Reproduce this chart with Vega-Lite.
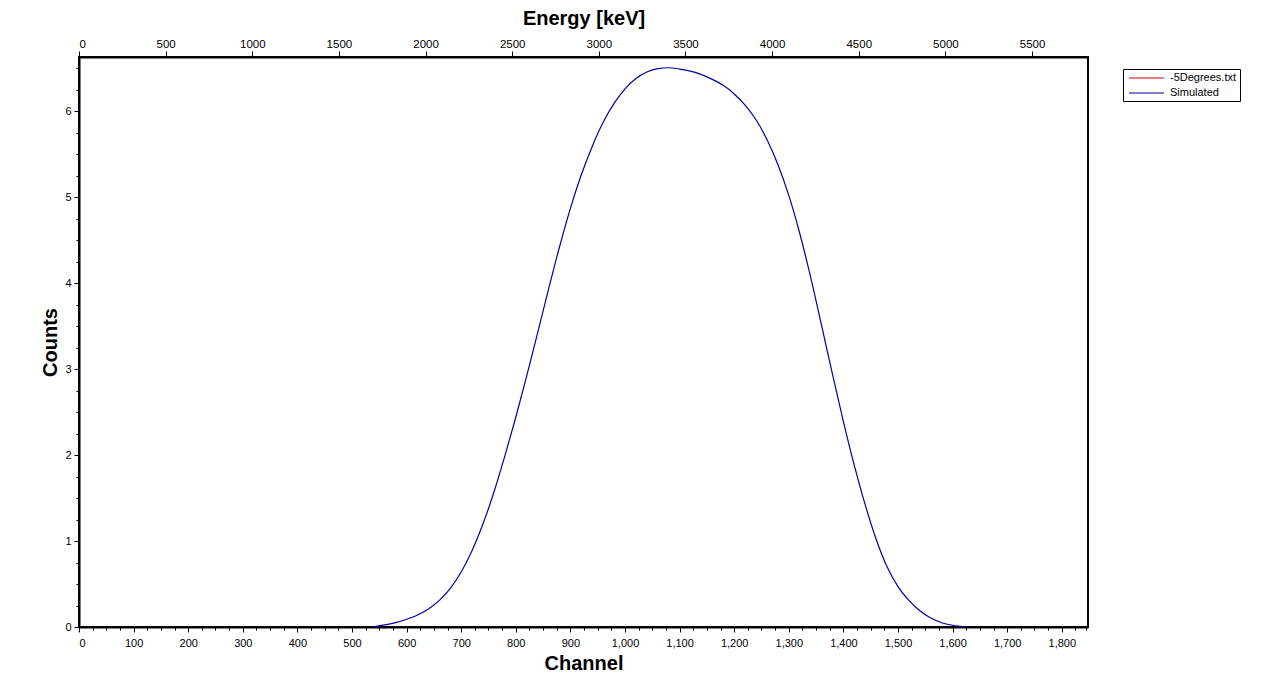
{
  "$schema": "https://vega.github.io/schema/vega-lite/v6.json",
  "autosize": {"type": "none"},
  "padding": {"left": 79, "top": 57, "right": 191, "bottom": 73},
  "width": 1009,
  "height": 570,
  "background": "white",
  "config": {
    "font": "Liberation Sans",
    "view": {"stroke": "black", "strokeWidth": 2},
    "axis": {"grid": false, "tickColor": "black", "labelColor": "black", "domainColor": "black", "domainWidth": 2, "titleColor": "black", "labelFont": "Liberation Sans", "titleFont": "Liberation Sans"}
  },
  "datasets": {
    "sim": [
      {"channel": 538, "counts": 0.0, "series": "Simulated"},
      {"channel": 560, "counts": 0.025, "series": "Simulated"},
      {"channel": 580, "counts": 0.05, "series": "Simulated"},
      {"channel": 600, "counts": 0.09, "series": "Simulated"},
      {"channel": 620, "counts": 0.14, "series": "Simulated"},
      {"channel": 640, "counts": 0.21, "series": "Simulated"},
      {"channel": 660, "counts": 0.31, "series": "Simulated"},
      {"channel": 680, "counts": 0.45, "series": "Simulated"},
      {"channel": 700, "counts": 0.64, "series": "Simulated"},
      {"channel": 720, "counts": 0.89, "series": "Simulated"},
      {"channel": 740, "counts": 1.2, "series": "Simulated"},
      {"channel": 760, "counts": 1.57, "series": "Simulated"},
      {"channel": 780, "counts": 1.99, "series": "Simulated"},
      {"channel": 800, "counts": 2.44, "series": "Simulated"},
      {"channel": 820, "counts": 2.92, "series": "Simulated"},
      {"channel": 840, "counts": 3.42, "series": "Simulated"},
      {"channel": 860, "counts": 3.93, "series": "Simulated"},
      {"channel": 880, "counts": 4.42, "series": "Simulated"},
      {"channel": 900, "counts": 4.87, "series": "Simulated"},
      {"channel": 920, "counts": 5.26, "series": "Simulated"},
      {"channel": 940, "counts": 5.59, "series": "Simulated"},
      {"channel": 960, "counts": 5.87, "series": "Simulated"},
      {"channel": 980, "counts": 6.09, "series": "Simulated"},
      {"channel": 1000, "counts": 6.26, "series": "Simulated"},
      {"channel": 1020, "counts": 6.38, "series": "Simulated"},
      {"channel": 1040, "counts": 6.455, "series": "Simulated"},
      {"channel": 1060, "counts": 6.495, "series": "Simulated"},
      {"channel": 1080, "counts": 6.505, "series": "Simulated"},
      {"channel": 1100, "counts": 6.49, "series": "Simulated"},
      {"channel": 1120, "counts": 6.465, "series": "Simulated"},
      {"channel": 1140, "counts": 6.425, "series": "Simulated"},
      {"channel": 1160, "counts": 6.37, "series": "Simulated"},
      {"channel": 1180, "counts": 6.3, "series": "Simulated"},
      {"channel": 1200, "counts": 6.2, "series": "Simulated"},
      {"channel": 1220, "counts": 6.07, "series": "Simulated"},
      {"channel": 1240, "counts": 5.9, "series": "Simulated"},
      {"channel": 1260, "counts": 5.67, "series": "Simulated"},
      {"channel": 1280, "counts": 5.38, "series": "Simulated"},
      {"channel": 1300, "counts": 5.02, "series": "Simulated"},
      {"channel": 1320, "counts": 4.58, "series": "Simulated"},
      {"channel": 1340, "counts": 4.07, "series": "Simulated"},
      {"channel": 1360, "counts": 3.51, "series": "Simulated"},
      {"channel": 1380, "counts": 2.94, "series": "Simulated"},
      {"channel": 1400, "counts": 2.39, "series": "Simulated"},
      {"channel": 1420, "counts": 1.88, "series": "Simulated"},
      {"channel": 1440, "counts": 1.42, "series": "Simulated"},
      {"channel": 1460, "counts": 1.02, "series": "Simulated"},
      {"channel": 1480, "counts": 0.7, "series": "Simulated"},
      {"channel": 1500, "counts": 0.47, "series": "Simulated"},
      {"channel": 1520, "counts": 0.31, "series": "Simulated"},
      {"channel": 1540, "counts": 0.19, "series": "Simulated"},
      {"channel": 1560, "counts": 0.105, "series": "Simulated"},
      {"channel": 1580, "counts": 0.05, "series": "Simulated"},
      {"channel": 1600, "counts": 0.02, "series": "Simulated"},
      {"channel": 1625, "counts": 0.0, "series": "Simulated"}
    ],
    "energy": [{"energy": 0}, {"energy": 5823}]
  },
  "resolve": {
    "scale": {"x": "independent", "y": "independent"},
    "axis": {"x": "independent", "y": "independent"}
  },
  "layer": [
    {
      "data": {"name": "sim"},
      "mark": {"type": "point", "opacity": 0},
      "encoding": {
        "x": {
          "field": "channel", "type": "quantitative",
          "scale": {"domain": [0, 1848], "nice": false, "zero": false},
          "axis": {"orient": "bottom", "labels": false, "domain": false, "title": null, "tickSize": 3, "tickWidth": 1,
            "values": [0,25,50,75,100,125,150,175,200,225,250,275,300,325,350,375,400,425,450,475,500,525,550,575,600,625,650,675,700,725,750,775,800,825,850,875,900,925,950,975,1000,1025,1050,1075,1100,1125,1150,1175,1200,1225,1250,1275,1300,1325,1350,1375,1400,1425,1450,1475,1500,1525,1550,1575,1600,1625,1650,1675,1700,1725,1750,1775,1800,1825,1845]}
        },
        "y": {
          "field": "counts", "type": "quantitative",
          "scale": {"domain": [0, 6.63], "nice": false, "zero": false},
          "axis": {"orient": "left", "labels": false, "domain": false, "title": null, "tickSize": 3, "tickWidth": 1,
            "values": [0,0.25,0.5,0.75,1,1.25,1.5,1.75,2,2.25,2.5,2.75,3,3.25,3.5,3.75,4,4.25,4.5,4.75,5,5.25,5.5,5.75,6,6.25,6.5]}
        }
      }
    },
    {
      "data": {"name": "energy"},
      "mark": {"type": "point", "opacity": 0},
      "encoding": {
        "x": {
          "field": "energy", "type": "quantitative",
          "scale": {"domain": [0, 5823], "nice": false, "zero": false},
          "axis": {"orient": "top", "values": [0,500,1000,1500,2000,2500,3000,3500,4000,4500,5000,5500], "format": "d",
            "tickSize": 6, "tickWidth": 1, "labelPadding": 2, "labelFontSize": 11.5,
            "title": "Energy [keV]", "titleFontSize": 20, "titleFontWeight": "bold", "titlePadding": 10}
        }
      }
    },
    {
      "data": {"name": "sim"},
      "mark": {"type": "line", "strokeWidth": 1.2, "interpolate": "monotone"},
      "encoding": {
        "x": {
          "field": "channel", "type": "quantitative",
          "scale": {"domain": [0, 1848], "nice": false, "zero": false},
          "axis": {"orient": "bottom", "values": [0,100,200,300,400,500,600,700,800,900,1000,1100,1200,1300,1400,1500,1600,1700,1800], "format": ",d",
            "tickSize": 5, "tickWidth": 1, "labelPadding": 5, "labelFontSize": 11,
            "title": "Channel", "titleFontSize": 20, "titleFontWeight": "bold", "titlePadding": 5}
        },
        "y": {
          "field": "counts", "type": "quantitative",
          "scale": {"domain": [0, 6.63], "nice": false, "zero": false},
          "axis": {"orient": "left", "values": [0,1,2,3,4,5,6], "format": "d",
            "tickSize": 5, "tickWidth": 1, "labelPadding": 3, "labelFontSize": 11,
            "title": "Counts", "titleFontSize": 20, "titleFontWeight": "bold", "titlePadding": 4}
        },
        "color": {
          "field": "series", "type": "nominal",
          "scale": {"domain": ["-5Degrees.txt", "Simulated"], "range": ["#cc0000", "#00009c"]},
          "legend": {"orient": "none", "legendX": 1044, "legendY": 12, "title": null,
            "strokeColor": "black", "fillColor": "white", "padding": 3,
            "symbolType": "M-0.6,0L6.4,0", "symbolSize": 100, "symbolStrokeWidth": 1.2, "symbolFillColor": "transparent",
            "labelFontSize": 11, "labelColor": "black", "labelOffset": 32, "rowPadding": 4}
        }
      }
    }
  ]
}
